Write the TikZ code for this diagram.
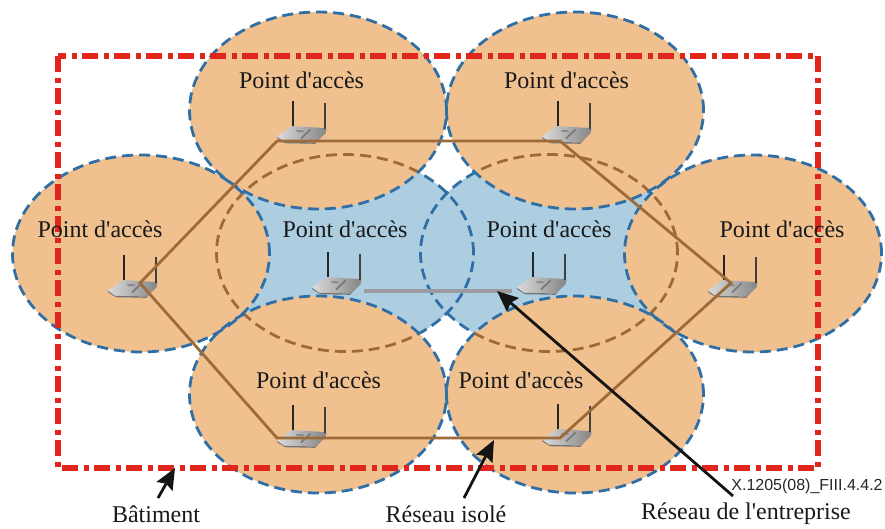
\documentclass[tikz,border=0pt]{standalone}
\usepackage{fontspec}
\newfontfamily\labelfont{Liberation Serif}
\newfontfamily\codefont{Liberation Sans}
\usetikzlibrary{arrows.meta}
\definecolor{cellorange}{HTML}{F0C08F}
\definecolor{cellblue}{HTML}{ADCEE1}
\definecolor{edgeblue}{HTML}{2F6FA5}
\definecolor{linkbrown}{HTML}{9E6B38}
\definecolor{bldred}{HTML}{E0261C}
\definecolor{lan}{HTML}{9A9CA1}
\tikzset{
  x=1pt,y=-1pt,
  cellradii/.style={x radius=128.5pt,y radius=98.5pt},
  celldash/.style={line width=2.8pt,dash pattern=on 11pt off 6pt},
  lbl/.style={font=\labelfont\fontsize{24}{24}\selectfont,inner sep=0pt,text=black!90},
  link/.style={linkbrown,line width=2.8pt,line join=miter},
  pointer/.style={black!92,line width=2.8pt,-{Stealth[length=21pt,width=18pt,inset=3pt]}},
  pics/router/.style={code={
    \fill[black!55] (0,10.5) -- (7,15.5) -- (38,16.5) -- (48.5,7) -- (38,17.8) -- (8,17.2) -- (0.5,12.5) -- cycle;
    \shade[left color=black!14,right color=black!48,draw=none]
      (15,0) -- (47,2) -- (49.5,3) -- (48.5,7) -- (38,16.5) -- (7,15.5) -- (0,10.5) -- cycle;
    \fill[black!45] (19,4) -- (26,4.2) -- (27,6) -- (20,6) -- cycle;
    \draw[black!52,line width=1.8pt] (24,12.5) -- (33.5,3.5);
    \draw[black!85,line width=1.5pt] (16,0) -- (16,-25);
    \draw[black!75,line width=1.5pt] (48,2.5) -- (48,-23.5);
  }}
}
\begin{document}
\begin{tikzpicture}
\useasboundingbox (0,0) rectangle (885,528);
% cell centres
\coordinate (cTL) at (318,110.5);
\coordinate (cTR) at (575,110.5);
\coordinate (cL)  at (141,253.5);
\coordinate (cR)  at (753,253.5);
\coordinate (cBL) at (318,394.5);
\coordinate (cBR) at (575,394.5);
\coordinate (cML) at (345,253);
\coordinate (cMR) at (549,253);
% inner (isolated) cells
\foreach \c in {cML,cMR}
  \fill[cellblue] (\c) ellipse [cellradii];
\foreach \c in {cML,cMR}
  \draw[edgeblue,celldash] (\c) ellipse [cellradii];
% outer cells
\foreach \c in {cTL,cTR,cL,cR,cBL,cBR}
  \fill[cellorange] (\c) ellipse [cellradii];
% inner-cell outlines seen through the outer cells
\foreach \c in {cTL,cTR,cL,cR,cBL,cBR}{
  \begin{scope}
    \clip (\c) ellipse [cellradii];
    \foreach \d in {cML,cMR}
      \draw[linkbrown,celldash] (\d) ellipse [cellradii];
  \end{scope}
}
\foreach \c in {cTL,cTR,cL,cR,cBL,cBR}
  \draw[edgeblue,celldash] (\c) ellipse [cellradii];
% building
\draw[bldred,line width=5.5pt,dash pattern=on 16pt off 5.5pt on 5pt off 5.5pt]
  (58,56) rectangle (818,468);
% routers
\pic at (277,126) {router};
\pic at (542,126) {router};
\pic at (108,280) {router};
\pic at (708,280) {router};
\pic at (312,277) {router};
\pic at (517,277) {router};
\pic at (277,430) {router};
\pic at (542,429) {router};
% links
\coordinate (rTL) at (277,141);
\coordinate (rTR) at (560,141);
\coordinate (rR)  at (731,283);
\coordinate (rBR) at (560,438);
\coordinate (rBL) at (277,438);
\coordinate (rL)  at (140,283);
\draw[link] (rTL) -- (rTR) -- (rR) -- (rBR) -- (rBL) -- (rL) -- cycle;
\coordinate (lanA) at (364,291);
\coordinate (lanB) at (512,291);
\draw[lan,line width=4pt] (lanA) -- (lanB);
% labels
\node[lbl] (pTL) at (301.5,80) {Point d'accès};
\node[lbl] (pTR) at (566.5,80) {Point d'accès};
\node[lbl] (pL)  at (100,229) {Point d'accès};
\node[lbl] (pML) at (345,229) {Point d'accès};
\node[lbl] (pMR) at (549,229) {Point d'accès};
\node[lbl] (pR)  at (782,229) {Point d'accès};
\node[lbl] (pBL) at (318.5,380) {Point d'accès};
\node[lbl] (pBR) at (521,380) {Point d'accès};
\node[lbl] (bat) at (156,514) {Bâtiment};
\node[lbl] (iso) at (446,514) {Réseau isolé};
\node[lbl] (ent) at (746,514) {Réseau de l'entreprise};
\node[inner sep=0pt,font=\codefont\fontsize{16}{16}\selectfont,text=black!85] (ref) at (807,486) {X.1205(08)\_FIII.4.4.2};
% pointers
\coordinate (tBat) at (175,468);
\coordinate (sBat) at (158,498);
\coordinate (tIso) at (494,440);
\coordinate (sIso) at (464,498);
\coordinate (tEnt) at (497,291);
\coordinate (sEnt) at (733,496);
\draw[pointer] (sBat) -- (tBat);
\draw[pointer] (sIso) -- (tIso);
\draw[pointer] (sEnt) -- (tEnt);
\end{tikzpicture}
\end{document}
